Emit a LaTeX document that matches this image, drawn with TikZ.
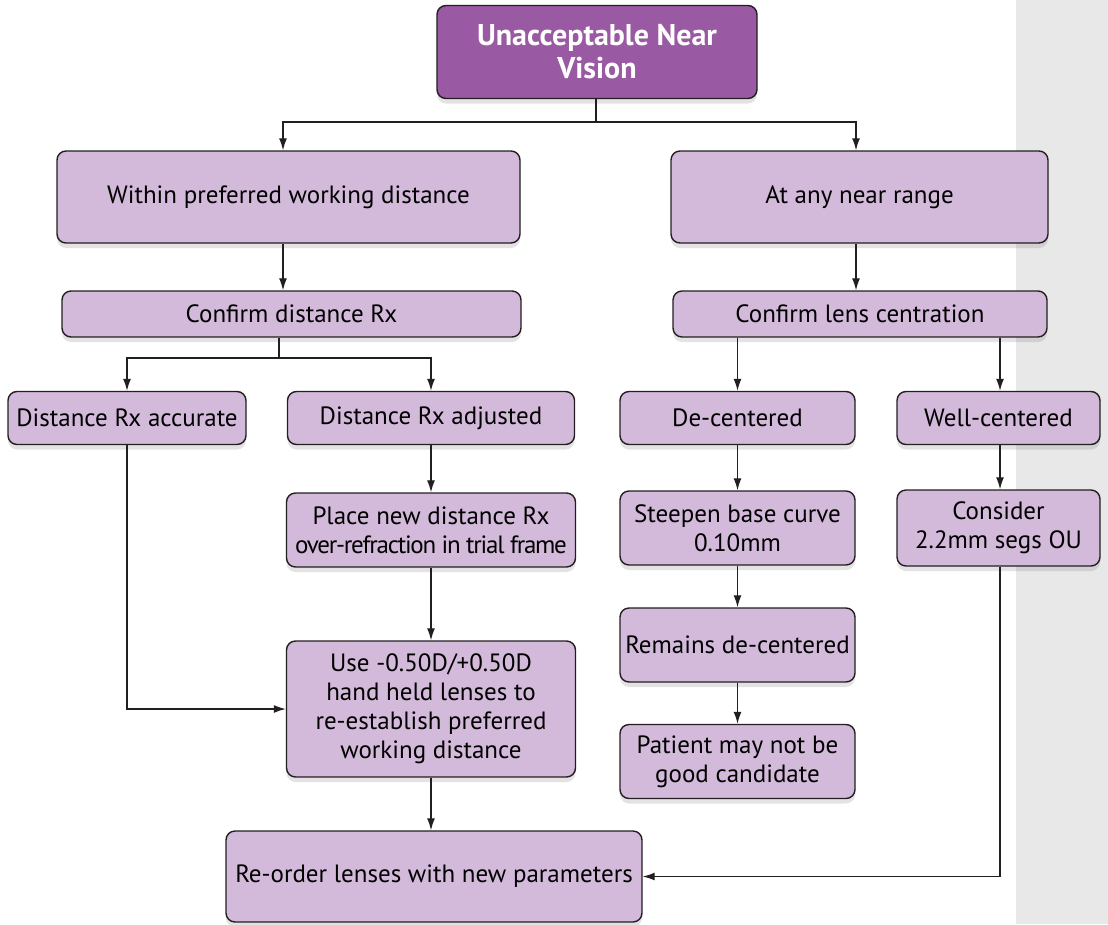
\documentclass[tikz,border=0pt]{standalone}
\usepackage{fontspec}
\setmainfont{PT Sans}
\usetikzlibrary{arrows.meta,positioning,shadows}
\definecolor{plum}{HTML}{9A59A3}
\definecolor{lilac}{HTML}{D3B9DA}
\definecolor{ink}{HTML}{231F20}
\definecolor{haze}{HTML}{E8E8E9}
\tikzset{
  >={Latex[length=12pt,width=8pt]},
  flow/.style={->,line width=1.3pt,draw=ink},
  link/.style={line width=1.3pt,draw=ink},
  box/.style={rounded corners=9pt,draw=ink,line width=1.4pt,fill=lilac,align=center,
    inner sep=2pt,font=\fontsize{25}{29}\selectfont,
    drop shadow={shadow xshift=0pt,shadow yshift=-5pt,opacity=.18,fill=black!60}},
  headbox/.style={box,fill=plum,text=white,font=\fontsize{30}{33}\selectfont\bfseries}
}

\begin{document}
\begin{tikzpicture}[x=1pt,y=-1pt]
  \useasboundingbox (0,0) rectangle (1108,924);
  \fill[haze] (1016,0) rectangle (1108,924);

  \node[headbox,minimum width=320,minimum height=93] (vis) at (597,52) {Unacceptable Near\\Vision};
  \node[box,minimum width=463,minimum height=92] (within) at (288.5,197) {Within preferred working distance};
  \node[box,minimum width=377,minimum height=92] (anyrng) at (859.5,197) {At any near range};
  \node[box,minimum width=459,minimum height=46] (cdist) at (291.5,314) {Confirm distance Rx};
  \node[box,minimum width=374,minimum height=46] (ccent) at (860,314) {Confirm lens centration};
  \node[box,minimum width=238,minimum height=53] (accur) at (127,418) {Distance Rx accurate};
  \node[box,minimum width=287,minimum height=53] (adjst) at (431,418) {Distance Rx adjusted};
  \node[box,minimum width=235,minimum height=53] (decen) at (737.5,418) {De-centered};
  \node[box,minimum width=203,minimum height=53] (wellc) at (998.5,418) {Well-centered};
  \node[box,minimum width=289,minimum height=74] (place) at (431,530) {Place new distance Rx\\{\addfontfeature{LetterSpace=-5}over-refraction in trial frame}};
  \node[box,minimum width=235,minimum height=74] (steep) at (737.5,528) {Steepen base curve\\0.10mm};
  \node[box,minimum width=203,minimum height=76] (segs) at (998.5,528) {Consider\\2.2mm segs OU};
  \node[box,minimum width=235,minimum height=74] (remain) at (737.5,645) {Remains de-centered};
  \node[box,minimum width=235,minimum height=74] (patnt) at (737.5,761.5) {Patient may not be\\good candidate};
  \node[box,minimum width=289,minimum height=136] (hand) at (431,709) {Use -0.50D/+0.50D\\hand held lenses to\\re-establish preferred\\working distance};
  \node[box,minimum width=416,minimum height=91] (reord) at (434,876.5) {Re-order lenses with new parameters};

  % drop lines
  \coordinate (xl) at (283,0);
  \coordinate (xm) at (856,0);
  \coordinate (xr) at (1000,0);
  \coordinate (s1) at (596,122);
  \coordinate (s2) at (279,358);

  % top split
  \draw[link] (vis.south -| s1) -- (s1);
  \draw[flow] (s1) -| (within.north -| xl);
  \draw[flow] (s1) -| (anyrng.north -| xm);
  \draw[flow] (within.south -| xl) -- (cdist.north -| xl);
  \draw[flow] (anyrng.south -| xm) -- (ccent.north -| xm);

  % left branch
  \draw[link] (cdist.south -| s2) -- (s2);
  \draw[flow] (s2) -| (accur);
  \draw[flow] (s2) -| (adjst);
  \draw[flow] (adjst) -- (place);
  \draw[flow] (place) -- (hand);
  \draw[flow] (accur) |- (hand);
  \draw[flow] (hand) -- (reord.north -| hand);

  % right branch
  \draw[flow] (ccent.south -| decen) -- (decen);
  \draw[flow] (ccent.south -| xr) -- (wellc.north -| xr);
  \draw[flow] (decen) -- (steep);
  \draw[flow] (steep) -- (remain);
  \draw[flow] (remain) -- (patnt);
  \draw[flow] (wellc.south -| xr) -- (segs.north -| xr);
  \draw[flow] (segs.south -| xr) |- (reord);
\end{tikzpicture}
\end{document}
